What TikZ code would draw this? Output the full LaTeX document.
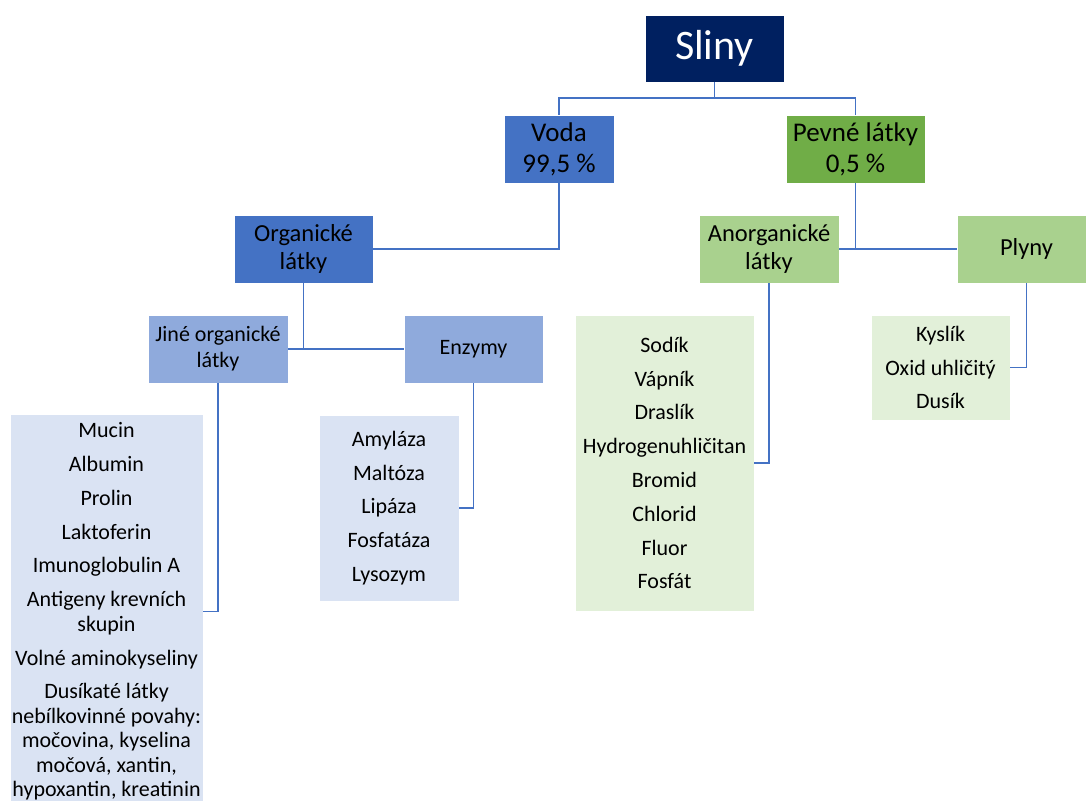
\documentclass[tikz,border=0pt]{standalone}
\usepackage{fontspec}
\setmainfont{Carlito}
\definecolor{navy}{HTML}{002060}
\definecolor{vodablue}{HTML}{4472C4}
\definecolor{lightblue}{HTML}{8FAADC}
\definecolor{paleblue}{HTML}{DAE3F3}
\definecolor{pevnegreen}{HTML}{70AD47}
\definecolor{lightgreen}{HTML}{A9D18E}
\definecolor{palegreen}{HTML}{E2F0D9}
\newcommand{\itemgap}{\\[9.3pt]}
\begin{document}
\begin{tikzpicture}[x=1pt,y=-1pt,
    box/.style={draw=white, line width=0.75pt, align=center, text=black, inner sep=2pt},
    big/.style={font=\fontsize{27}{31}\selectfont},
    mid/.style={font=\fontsize{24.5}{28.5}\selectfont},
    small/.style={font=\fontsize{22}{26}\selectfont},
    list/.style={font=\fontsize{22}{24.5}\selectfont},
    link/.style={draw=vodablue, line width=1.8pt}]
    \useasboundingbox (0,0) rectangle (1086,800);
    \clip (0,0) rectangle (1086,800);
    % top levels
    \node[box, fill=navy, text=white, minimum width=139pt, minimum height=67pt, font=\fontsize{42}{50}\selectfont] (sliny) at (714.5,48.5) {Sliny};
    \node[box, big, fill=vodablue, minimum width=110pt, minimum height=68pt] (voda) at (559,149) {Voda\\99,5 \%};
    \node[box, big, fill=pevnegreen, minimum width=139pt, minimum height=68pt] (pevne) at (855.5,149) {Pevné látky\\0,5 \%};
    \node[box, mid, fill=vodablue, minimum width=139pt, minimum height=68pt] (organ) at (303.5,249) {Organické\\látky};
    \node[box, mid, fill=lightgreen, minimum width=140pt, minimum height=68pt] (anorg) at (769,249) {Anorganické\\látky};
    \node[box, mid, fill=lightgreen, minimum width=139pt, minimum height=68pt] (plyny) at (1026.5,249) {Plyny};
    \node[box, small, fill=lightblue, minimum width=140pt, minimum height=68pt] (jine) at (218,349) {Jiné organické\\látky};
    \node[box, small, fill=lightblue, minimum width=139pt, minimum height=68pt] (enzymy) at (473.5,349) {Enzymy};
    % lists
    \node[box, list, fill=paleblue, minimum width=191pt, minimum height=395pt] (jinelist) at (106.5,611.5) {Mucin\itemgap Albumin\itemgap Prolin\itemgap Laktoferin\itemgap Imunoglobulin A\itemgap Antigeny krevních\\skupin\itemgap Volné aminokyseliny\itemgap Dusíkaté látky\\nebílkovinné povahy:\\močovina, kyselina\\močová, xantin,\\hypoxantin, kreatinin};
    \node[box, list, fill=paleblue, minimum width=140pt, minimum height=186pt] (enzlist) at (389,508) {Amyláza\itemgap Maltóza\itemgap Lipáza\itemgap Fosfatáza\itemgap Lysozym};
    \node[box, list, fill=palegreen, minimum width=179pt, minimum height=296pt] (anorglist) at (664.5,463) {Sodík\itemgap Vápník\itemgap Draslík\itemgap Hydrogenuhličitan\itemgap Bromid\itemgap Chlorid\itemgap Fluor\itemgap Fosfát};
    \node[box, list, fill=palegreen, minimum width=139pt, minimum height=105pt] (plynlist) at (940.5,367.5) {Kyslík\itemgap Oxid uhličitý\itemgap Dusík};
    % connectors
    \draw[link] (voda.north) -- ++(0,-17) -| (sliny.south);
    \draw[link] (pevne.north) -- ++(0,-17) -| (sliny.south);
    \draw[link] (voda.south) |- (organ.east);
    \draw[link] (anorg.east) -- (plyny.west);
    \draw[link] (pevne.south) -- (pevne.south |- plyny.west);
    \draw[link] (jine.east) -- (enzymy.west);
    \draw[link] (organ.south) -- (organ.south |- jine.east);
    \draw[link] (jine.south) |- (jinelist.east);
    \draw[link] (enzymy.south) |- (enzlist.east);
    \draw[link] (anorg.south) |- (anorglist.east);
    \draw[link] (plyny.south) |- (plynlist.east);
\end{tikzpicture}
\end{document}
